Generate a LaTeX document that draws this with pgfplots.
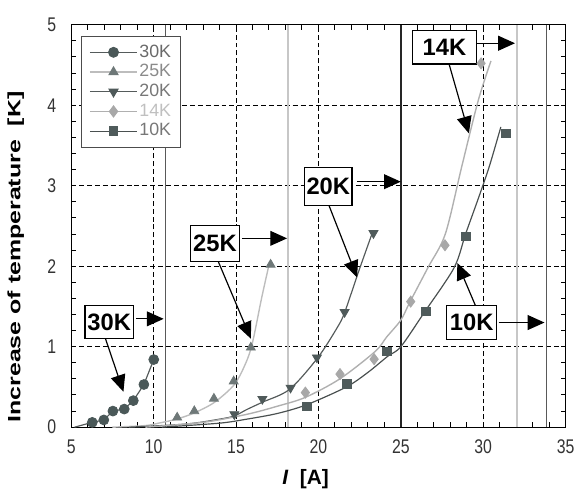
\documentclass[border=0pt]{standalone}
\usepackage{fontspec}
\setmainfont{Liberation Sans}
\newfontfamily\tickfont[FakeStretch=0.8]{Liberation Sans}
\newfontfamily\ylabfont[FakeStretch=1.4]{Liberation Sans}
\usepackage{pgfplots}
\pgfplotsset{compat=1.18}
\usetikzlibrary{arrows.meta}
\definecolor{m30}{HTML}{4A5858}
\definecolor{m25}{HTML}{6E7878}
\definecolor{m20}{HTML}{4F5A5A}
\definecolor{m14}{HTML}{A8A8A8}
\definecolor{m10}{HTML}{4F5B5B}
\definecolor{l30}{HTML}{555B5B}
\definecolor{l25}{HTML}{BDBDBD}
\definecolor{l20}{HTML}{555B5B}
\definecolor{l14}{HTML}{B0B0B0}
\definecolor{l10}{HTML}{4A5050}
\definecolor{t30}{HTML}{6A6A6A}
\definecolor{t25}{HTML}{8A8A8A}
\definecolor{t20}{HTML}{777777}
\definecolor{t14}{HTML}{C0C0C0}
\definecolor{t10}{HTML}{777777}
\pgfplotsset{
  legimg/.style={legend image code/.code={%
    \draw[#1, line width=0.6pt] (0pt,0pt) -- (24pt,0pt);
    \draw[only marks] plot coordinates {(12pt,0pt)};}},
}
\tikzset{
  lbox/.style={draw=black, line width=0.6pt, fill=white, inner sep=1pt,
    minimum height=17pt, font=\bfseries\fontsize{12}{14}\selectfont},
  arr/.style={-{Triangle[length=8.5pt,width=7.5pt]}, line width=0.6pt, black},
}
\begin{document}
\begin{tikzpicture}
\begin{axis}[name=ax,
  width=250pt, height=203.5pt, scale only axis,
  xmin=5, xmax=35, ymin=0, ymax=5,
  xtick={5,10,...,35}, ytick={0,1,...,5},
  minor x tick num=4, minor y tick num=4,
  tick align=inside,
  major tick length=2.5pt, minor tick length=2.5pt,
  every tick/.style={black, line width=0.5pt},
  grid=major,
  major grid style={dash pattern=on 2.5pt off 1.5pt, black, line width=0.5pt},
  axis line style={line width=0.6pt, black},
  /pgf/number format/assume math mode=true,
  ticklabel style={font=\tickfont\fontsize{10}{12}\selectfont, text=black!80},
  xticklabel style={yshift=-3pt},
  yticklabel style={xshift=-4pt},
  xlabel={\textit{I}\ \ [A]},
  xlabel style={font=\bfseries\fontsize{10.5}{12}\selectfont, at={(axis description cs:0.474,0)}, anchor=north, yshift=-18pt},
  ylabel={Increase of temperature\ \ [K]},
  ylabel style={font=\ylabfont\bfseries\fontsize{9}{11}\selectfont, at={(axis description cs:-0.081,0.423)}, anchor=south},
  legend style={at={(axis description cs:0,1)}, anchor=north west, xshift=4.85pt, yshift=-5.5pt,
    draw=black!70, line width=0.5pt, fill=white, font=\fontsize{9}{10}\selectfont,
    inner xsep=4pt, inner ysep=3.5pt, row sep=0.6pt, nodes={inner sep=0.8pt}},
  legend cell align=left,
]
% vertical lines
\addplot[forget plot, black!65, line width=0.6pt] coordinates {(10.7,0) (10.7,5)};
\addplot[forget plot, black!22, line width=0.8pt] coordinates {(18.15,0) (18.15,5)};
\addplot[forget plot, black!85, line width=1.1pt] coordinates {(25.0,0) (25.0,5)};
\addplot[forget plot, black!22, line width=0.8pt] coordinates {(32.05,0) (32.05,5)};
\addplot[forget plot, black!65, line width=0.6pt] coordinates {(33.85,0) (33.85,5)};
% curves
\addplot[forget plot, l30, line width=0.6pt] coordinates {
 (5.2,0.0) (6.28,0.06) (6.98,0.09) (7.53,0.2) (8.22,0.225) (8.77,0.33) (9.41,0.53) (10.01,0.84)};
\addplot[forget plot, smooth, l25, line width=0.7pt] coordinates {
 (7.5,0.0) (9.5,0.02) (10.3,0.05) (11.4,0.10) (12.5,0.18) (13.7,0.31) (14.9,0.53) (15.6,0.8) (16.0,1.05) (16.56,1.61) (17.05,2.06)};
\addplot[forget plot, smooth, l20, line width=0.6pt] coordinates {
 (8.5,0.0) (12,0.04) (14,0.10) (14.9,0.14) (15.66,0.22) (16.6,0.31) (18.25,0.47) (19.95,0.86) (21.15,1.24) (21.6,1.43) (22.45,1.94) (23.3,2.43)};
\addplot[forget plot, smooth, l14, line width=0.7pt] coordinates {
 (9.5,0.0) (13,0.06) (15.66,0.16) (17.5,0.26) (19.2,0.37) (21.3,0.6) (23.44,0.94) (24.14,1.12) (25.0,1.33) (25.54,1.55) (26.64,1.98) (27.7,2.4) (28.7,3.24) (29.7,4.06) (30.47,4.55)};
\addplot[forget plot, smooth, l10, line width=0.6pt] coordinates {
 (10.5,0.0) (14,0.05) (15.66,0.10) (17.5,0.17) (19.3,0.28) (21.7,0.5) (23,0.68) (24.2,0.88) (25.0,1.0) (26.44,1.43) (28.23,1.98) (28.93,2.4) (29.7,2.84) (30.37,3.24) (31.07,3.73)};
% markers
\addplot[only marks, mark=*, mark size=2.5pt, color=m30, mark options={fill=m30, draw=m30}, legimg=l30] coordinates {
 (6.28,0.06) (6.98,0.09) (7.53,0.2) (8.22,0.225) (8.77,0.33) (9.41,0.53) (10.01,0.84)};
\addlegendentry{\textcolor{t30}{30K}}
\addplot[only marks, mark=triangle*, mark size=2.6pt, color=m25, mark options={fill=m25, draw=m25}, legimg=l25] coordinates {
 (11.43,0.12) (12.47,0.2) (13.66,0.355) (14.86,0.57) (15.9,0.99) (17.1,2.02)};
\addlegendentry{\textcolor{t25}{25K}}
\addplot[only marks, mark=triangle*, mark size=2.6pt, color=m20, mark options={fill=m20, draw=m20, rotate=180}, legimg=l20] coordinates {
 (14.9,0.16) (16.6,0.35) (18.31,0.49) (19.91,0.865) (21.59,1.43) (23.34,2.41)};
\addlegendentry{\textcolor{t20}{20K}}
\addplot[only marks, mark=diamond*, mark size=2.8pt, color=m14, mark options={fill=m14, draw=m14}, legimg=l14] coordinates {
 (19.21,0.43) (21.31,0.66) (23.38,0.845) (25.6,1.56) (27.68,2.26) (29.87,4.52)};
\addlegendentry{\textcolor{t14}{14K}}
\addplot[only marks, mark=square*, mark size=2.2pt, color=m10, mark options={fill=m10, draw=m10}, legimg=l10] coordinates {
 (19.29,0.26) (21.71,0.54) (24.14,0.94) (26.54,1.44) (28.93,2.37) (31.37,3.65)};
\addlegendentry{\textcolor{t10}{10K}}
% annotations
\node[lbox, minimum width=24.5pt] at (axis cs:7.305,1.307) {30K};
\draw[arr] (axis cs:8.95,1.346) -- (axis cs:10.61,1.346);
\draw[arr] (axis cs:7.08,1.10) -- (axis cs:8.17,0.44);
\node[lbox, minimum width=25pt, minimum height=18pt] at (axis cs:13.72,2.28) {25K};
\draw[arr] (axis cs:15.36,2.346) -- (axis cs:18.1,2.346);
\draw[arr] (axis cs:13.92,2.06) -- (axis cs:15.9,1.10);
\node[lbox, minimum width=24pt, minimum height=19pt] at (axis cs:20.6,2.99) {20K};
\draw[arr] (axis cs:22.35,3.05) -- (axis cs:25.0,3.05);
\draw[arr] (axis cs:20.65,2.75) -- (axis cs:22.35,1.86);
\node[lbox, minimum width=32pt] at (axis cs:27.65,4.72) {14K};
\draw[arr] (axis cs:29.63,4.77) -- (axis cs:31.93,4.77);
\draw[arr] (axis cs:27.93,4.51) -- (axis cs:29.13,3.65);
\node[lbox, minimum width=25.5pt] at (axis cs:29.3,1.30) {10K};
\draw[arr] (axis cs:30.93,1.30) -- (axis cs:33.72,1.30);
\draw[arr] (axis cs:29.53,1.51) -- (axis cs:28.43,2.04);
\end{axis}
\path ([shift={(-36pt,-29pt)}]ax.south west) rectangle ([shift={(4.5pt,12.5pt)}]ax.north east);
\end{tikzpicture}
\end{document}
